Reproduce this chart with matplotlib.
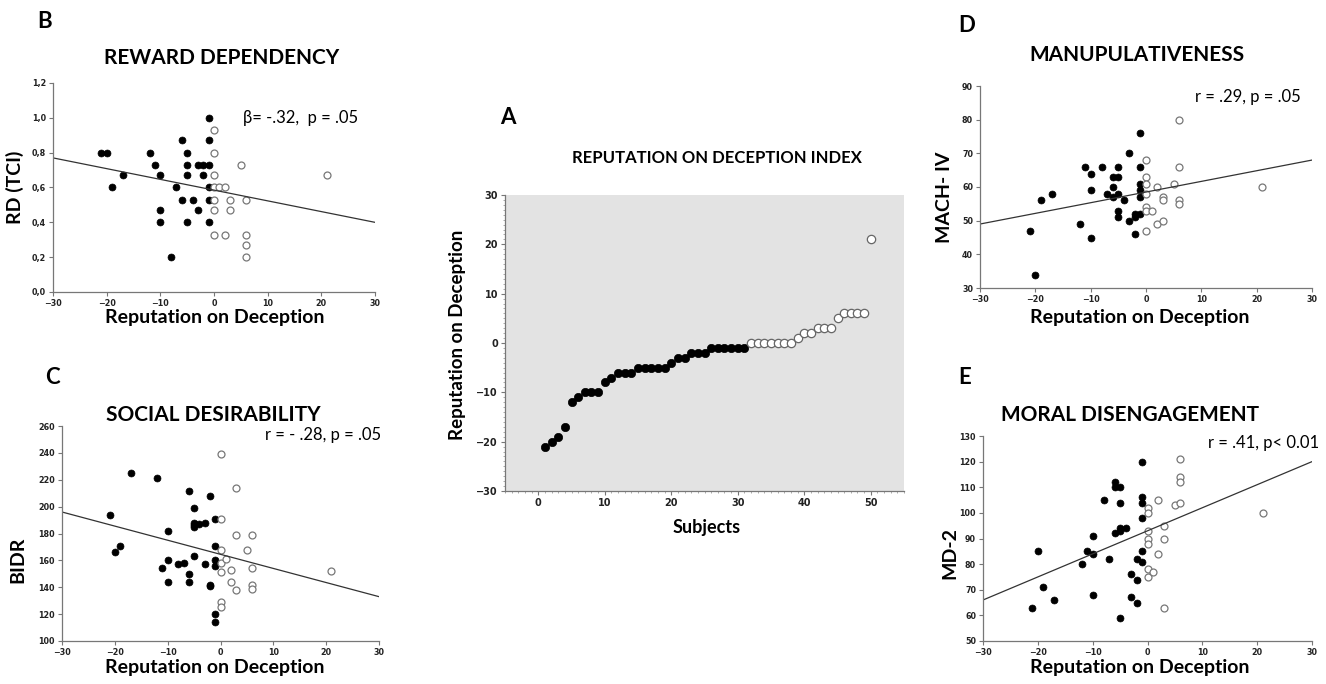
# Reputation on deception - five panel figure
import numpy as np
import matplotlib.pyplot as plt
from matplotlib.ticker import MultipleLocator, FuncFormatter


W, H = 1326, 684

# Panel A: sorted index per subject
subj_filled = list(range(1, 32))
rep_filled = [-21, -20, -19, -17, -12, -11, -10, -10, -10, -8, -7, -6, -6, -6,
              -5, -5, -5, -5, -5, -4, -3, -3, -2, -2, -2, -1, -1, -1, -1, -1, -1]
subj_open = list(range(32, 51))
rep_open = [0, 0, 0, 0, 0, 0, 0, 1, 2, 2, 3, 3, 3, 5, 6, 6, 6, 6, 21]

# Panel B: reward dependency
rd_fx = [-21, -20, -19, -17, -12, -11, -10, -10, -10, -8, -7, -6, -6, -5, -5, -5,
         -5, -4, -3, -3, -2, -2, -1, -1, -1, -1, -1, -1]
rd_fy = [0.80, 0.80, 0.60, 0.67, 0.80, 0.73, 0.67, 0.47, 0.40, 0.20, 0.60, 0.87, 0.53,
         0.80, 0.73, 0.67, 0.40, 0.53, 0.73, 0.47, 0.73, 0.67, 1.00, 0.87, 0.73, 0.60,
         0.53, 0.40]
rd_ox = [0, 0, 0, 0, 0, 0, 0, 1, 2, 2, 3, 3, 5, 6, 6, 6, 6, 21]
rd_oy = [0.93, 0.80, 0.67, 0.60, 0.53, 0.47, 0.33, 0.60, 0.60, 0.33, 0.53, 0.47, 0.73,
         0.53, 0.33, 0.27, 0.20, 0.67]
rd_line = [0.77, 0.40]

# Panel C: social desirability
sd_fx = [-21, -20, -19, -17, -12, -11, -10, -10, -10, -8, -7, -6, -6, -6, -5, -5, -5,
         -5, -5, -4, -3, -3, -2, -2, -2, -1, -1, -1, -1, -1, -1]
sd_fy = [194, 166, 171, 225, 221, 154, 182, 160, 144, 157, 158, 212, 150, 144, 199,
         188, 186, 185, 163, 187, 188, 157, 208, 142, 141, 191, 171, 160, 156, 120, 114]
sd_ox = [0, 0, 0, 0, 0, 0, 0, 1, 2, 2, 3, 3, 3, 5, 6, 6, 6, 6, 21]
sd_oy = [239, 191, 168, 158, 151, 129, 125, 161, 153, 144, 214, 179, 138, 168, 179,
         154, 142, 139, 152]
sd_line = [196, 133]

# Panel D: manipulativeness
mach_fx = [-21, -20, -19, -17, -12, -11, -10, -10, -10, -8, -7, -6, -6, -6, -5, -5, -5,
           -5, -5, -4, -3, -3, -2, -2, -2, -1, -1, -1, -1, -1, -1]
mach_fy = [47, 34, 56, 58, 49, 66, 64, 59, 45, 66, 58, 63, 60, 57, 66, 63, 58, 53, 51,
           56, 70, 50, 52, 51, 46, 76, 66, 61, 59, 57, 52]
mach_ox = [0, 0, 0, 0, 0, 0, 0, 1, 2, 2, 3, 3, 3, 5, 6, 6, 6, 6, 21]
mach_oy = [68, 63, 61, 58, 54, 53, 47, 53, 60, 49, 57, 56, 50, 61, 80, 66, 56, 55, 60]
mach_line = [49, 68]

# Panel E: moral disengagement
md_fx = [-21, -20, -19, -17, -12, -11, -10, -10, -10, -8, -7, -6, -6, -6, -5, -5, -5,
         -5, -5, -4, -3, -3, -2, -2, -2, -1, -1, -1, -1, -1, -1]
md_fy = [63, 85, 71, 66, 80, 85, 91, 84, 68, 105, 82, 112, 110, 92, 110, 104, 94, 93,
         59, 94, 76, 67, 82, 74, 65, 120, 106, 104, 98, 85, 81]
md_ox = [0, 0, 0, 0, 0, 0, 0, 1, 2, 2, 3, 3, 3, 5, 6, 6, 6, 6, 21]
md_oy = [102, 100, 93, 90, 88, 78, 75, 77, 105, 84, 95, 90, 63, 103, 121, 114, 112,
         104, 100]
md_line = [66, 120]


TITLE_FONT = 'Lato'
tick_font = dict(family='DejaVu Sans', weight='bold', size=5.8)

fig = plt.figure(figsize=(W / 100, H / 100), dpi=100)
fig.patch.set_facecolor('white')


def px_axes(l, t, r, b):
    return fig.add_axes([l / W, 1 - b / H, (r - l) / W, (b - t) / H])


def ftext(x, y, s, **kw):
    fig.text(x / W, 1 - y / H, s, **kw)


def style_axes(ax, size=None):
    for side in ['top', 'right']:
        ax.spines[side].set_visible(False)
    for side in ['left', 'bottom']:
        ax.spines[side].set_color('#777777')
        ax.spines[side].set_linewidth(0.9)
    ax.tick_params(direction='out', length=3, width=0.8, color='#777777', pad=2,
                   labelcolor='#222222')
    for lab in ax.get_xticklabels() + ax.get_yticklabels():
        lab.set_fontfamily(tick_font['family'])
        lab.set_fontweight(tick_font['weight'])
        lab.set_fontsize(size or tick_font['size'])


def scatter_panel(box, fx, fy, ox, oy, line, ylim, ystep, yfmt=None):
    ax = px_axes(*box)
    ax.plot(fx, fy, 'o', color='black', markersize=5, markeredgewidth=0.5, clip_on=False)
    ax.plot(ox, oy, 'o', markerfacecolor='white', markeredgecolor='#777777',
            markersize=5, markeredgewidth=0.9, clip_on=False)
    ax.plot([-30, 30], line, '-', color='#333333', linewidth=0.9)
    ax.set_xlim(-30, 30)
    ax.set_ylim(*ylim)
    ax.xaxis.set_major_locator(MultipleLocator(10))
    ax.yaxis.set_major_locator(MultipleLocator(ystep))
    if yfmt is not None:
        ax.yaxis.set_major_formatter(FuncFormatter(yfmt))
    style_axes(ax)
    return ax


label_kw = dict(family=TITLE_FONT, weight='bold', fontsize=14, ha='center', va='center')
title_kw = dict(family=TITLE_FONT, weight='bold', fontsize=15, ha='center', va='center')
stat_kw = dict(family=TITLE_FONT, fontsize=12, va='center')
letter_kw = dict(family=TITLE_FONT, weight='bold', fontsize=16, va='center')

# ---- Panel B
scatter_panel((53, 83, 375, 292), rd_fx, rd_fy, rd_ox, rd_oy, rd_line, (0, 1.2), 0.2,
              lambda v, p: ('%.1f' % v).replace('.', ','))
ftext(37, 22, 'B', **letter_kw)
ftext(222, 58, 'REWARD DEPENDENCY', **title_kw)
ftext(243, 118, '\u03b2= -.32,  p = .05', **stat_kw)
ftext(215, 318, 'Reputation on Deception', **label_kw)
ftext(15, 187, 'RD (TCI)', rotation=90, **label_kw)

# ---- Panel C
scatter_panel((62, 426, 379, 641), sd_fx, sd_fy, sd_ox, sd_oy, sd_line, (100, 260), 20)
ftext(45, 377, 'C', **letter_kw)
ftext(213, 415, 'SOCIAL DESIRABILITY', **title_kw)
ftext(265, 435, 'r = - .28, p = .05', **stat_kw)
ftext(215, 667, 'Reputation on Deception', **label_kw)
ftext(18, 560, 'BIDR', rotation=90, **label_kw)

# ---- Panel D
scatter_panel((980, 86, 1312, 288), mach_fx, mach_fy, mach_ox, mach_oy, mach_line,
              (30, 90), 10)
ftext(958, 25, 'D', **letter_kw)
ftext(1137, 55, 'MANUPULATIVENESS', **title_kw)
ftext(1195, 97, 'r = .29, p = .05', **stat_kw)
ftext(1140, 318, 'Reputation on Deception', **label_kw)
ftext(945, 197, 'MACH- IV', rotation=90, **label_kw)

# ---- Panel E
scatter_panel((983, 436, 1312, 641), md_fx, md_fy, md_ox, md_oy, md_line, (50, 130), 10)
ftext(958, 377, 'E', **letter_kw)
ftext(1130, 415, 'MORAL DISENGAGEMENT', **title_kw)
ftext(1208, 443, 'r = .41, p< 0.01', **stat_kw)
ftext(1140, 667, 'Reputation on Deception', **label_kw)
ftext(950, 553, 'MD-2', rotation=90, **label_kw)

# ---- Panel A
axA = px_axes(505, 195, 904, 491)
axA.set_facecolor('#e3e3e3')
axA.plot(subj_filled, rep_filled, 'o', color='black', markersize=6, markeredgewidth=0.5)
axA.plot(subj_open, rep_open, 'o', markerfacecolor='white', markeredgecolor='#666666',
         markersize=6, markeredgewidth=0.9)
axA.set_xlim(-5, 55)
axA.set_ylim(-30, 30)
axA.xaxis.set_major_locator(MultipleLocator(10))
axA.yaxis.set_major_locator(MultipleLocator(10))
axA.xaxis.set_minor_locator(MultipleLocator(1))
axA.yaxis.set_minor_locator(MultipleLocator(1))
style_axes(axA, size=7)
axA.tick_params(which='minor', direction='out', length=1.5, width=0.5, color='#888888')
ftext(500, 117, 'A', **letter_kw)
ftext(717, 158, 'REPUTATION ON DECEPTION INDEX', family=TITLE_FONT, weight='bold',
      fontsize=12, ha='center', va='center')
ftext(707, 528, 'Subjects', family=TITLE_FONT, weight='bold', fontsize=13,
      ha='center', va='center')
ftext(458, 335, 'Reputation on Deception', family=TITLE_FONT, weight='bold', fontsize=13.5,
      ha='center', va='center', rotation=90)

fig.savefig('out.png', dpi=100)
